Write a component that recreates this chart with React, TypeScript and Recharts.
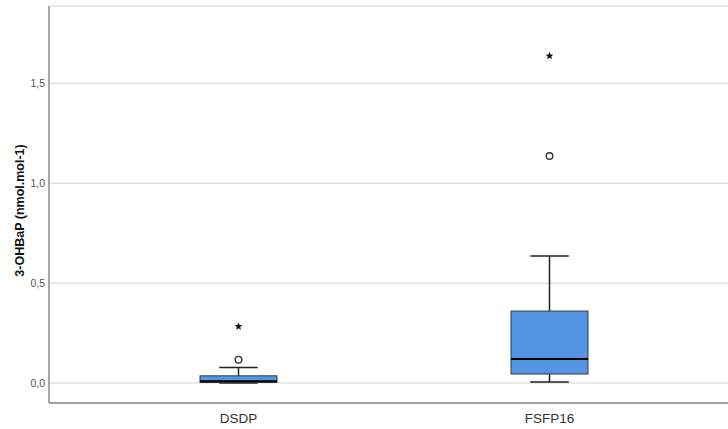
import React from 'react';
import { ComposedChart, Bar, Scatter, XAxis, YAxis, CartesianGrid } from 'recharts';

const categories = ['DSDP', 'FSFP16'];
const q1Values = [0.003, 0.045];
const medianValues = [0.009, 0.12];
const q3Values = [0.036, 0.36];
const lowWhisker = [0.0, 0.005];
const highWhisker = [0.078, 0.635];
const outlierValues = [0.117, 1.136];
const extremeValues = [0.283, 1.637];
const yTicks = [0, 0.5, 1.0, 1.5];
const yTitle = '3-OHBaP (nmol.mol-1)';

const data = categories.map((c, i) => ({
  cat: c,
  box: [q1Values[i], q3Values[i]],
  q1: q1Values[i],
  med: medianValues[i],
  q3: q3Values[i],
  lo: lowWhisker[i],
  hi: highWhisker[i],
  outlier: outlierValues[i],
  extreme: extremeValues[i],
}));

const FONT = 'Liberation Sans, Arial, sans-serif';

const BoxShape = (props: any) => {
  const { x, y, width, height, payload } = props;
  const k = height / (payload.q3 - payload.q1);
  const py = (v: number) => y + (payload.q3 - v) * k;
  const cx = x + width / 2;
  const cap = width / 4;
  return (
    <g>
      <line x1={cx} x2={cx} y1={py(payload.hi)} y2={py(payload.q3)} stroke="#222" strokeWidth={1.5} />
      <line x1={cx} x2={cx} y1={py(payload.q1)} y2={py(payload.lo)} stroke="#222" strokeWidth={1.5} />
      <line x1={cx - cap} x2={cx + cap} y1={py(payload.hi)} y2={py(payload.hi)} stroke="#222" strokeWidth={1.5} />
      <line x1={cx - cap} x2={cx + cap} y1={py(payload.lo)} y2={py(payload.lo)} stroke="#222" strokeWidth={1.5} />
      <rect x={x} y={y} width={width} height={height} fill="#5394e3" stroke="#3a3a3a" strokeWidth={1} />
      <line x1={x} x2={x + width} y1={py(payload.med)} y2={py(payload.med)} stroke="#000" strokeWidth={2} />
    </g>
  );
};

const CircleShape = (props: any) => {
  const { cx, cy } = props;
  if (cx == null || cy == null) return null;
  return <circle cx={cx} cy={cy} r={3.3} fill="#fff" stroke="#333" strokeWidth={1.4} />;
};

const StarShape = (props: any) => {
  const { cx, cy } = props;
  if (cx == null || cy == null) return null;
  const pts: string[] = [];
  for (let i = 0; i < 10; i++) {
    const r = i % 2 === 0 ? 4 : 1.8;
    const a = -Math.PI / 2 + (i * Math.PI) / 5;
    pts.push(`${cx + r * Math.cos(a)},${cy + r * Math.sin(a)}`);
  }
  return <polygon points={pts.join(' ')} fill="#111" />;
};

const YTitle = (props: any) => {
  const vb = props.viewBox || {};
  const x = (vb.x || 0) + 24;
  const y = (vb.y || 0) + (vb.height || 0) / 2 + 6;
  return (
    <text
      x={x}
      y={y}
      transform={`rotate(-90 ${x} ${y})`}
      textAnchor="middle"
      fill="#111"
      fontSize={12.5}
      fontWeight="bold"
      fontFamily={FONT}
    >
      {yTitle}
    </text>
  );
};

export default function App() {
  return (
    <div style={{ position: 'absolute', left: 0, top: 0, background: '#fff' }}>
      <ComposedChart
        width={728}
        height={429}
        data={data}
        margin={{ top: 6, right: 0, left: 0, bottom: 0 }}
      >
        <CartesianGrid horizontal vertical={false} stroke="#d6d6d6" strokeWidth={1.2} />
        <XAxis
          dataKey="cat"
          type="category"
          height={26}
          padding={{ left: 34, right: 23 }}
          axisLine={{ stroke: '#8a8a8a', strokeWidth: 1.5 }}
          tickLine={false}
          tickSize={0}
          tickMargin={10}
          tick={{ fill: '#333', fontSize: 13.5, fontFamily: FONT }}
        />
        <YAxis
          type="number"
          domain={[-0.1, 1.8865]}
          ticks={yTicks}
          width={49}
          allowDataOverflow
          axisLine={{ stroke: '#8a8a8a', strokeWidth: 1.5 }}
          tickLine={false}
          tickSize={0}
          tickMargin={4}
          tickFormatter={(v: number) => v.toFixed(1).replace('.', ',')}
          tick={{ fill: '#555', fontSize: 10.5, fontFamily: FONT }}
          label={<YTitle />}
        />
        <Bar dataKey="box" barSize={77} shape={<BoxShape />} isAnimationActive={false} />
        <Scatter dataKey="outlier" shape={<CircleShape />} isAnimationActive={false} />
        <Scatter dataKey="extreme" shape={<StarShape />} isAnimationActive={false} />
      </ComposedChart>
    </div>
  );
}
